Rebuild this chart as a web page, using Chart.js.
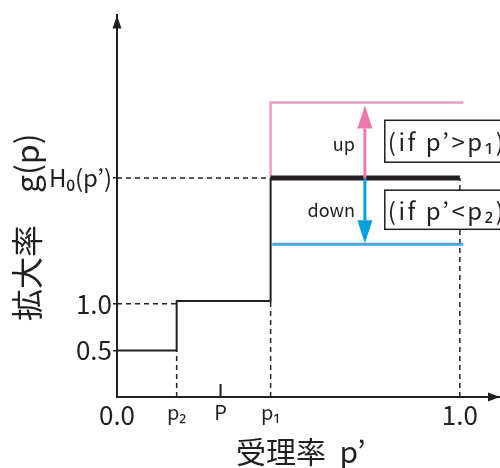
<!DOCTYPE html>
<html><head><meta charset="utf-8">
<script src="https://cdn.jsdelivr.net/npm/chart.js@4/dist/chart.umd.min.js"></script>
<style>html,body{margin:0;padding:0;background:#fff;}#wrap{width:500px;height:468px;}</style>
</head><body><div id="wrap"><canvas id="c" width="500" height="468"></canvas></div>
<script>
// ---- data ----
const xTickValues = [0, 0.174, 0.302, 0.448, 1.0];
const xTickLabels = ['0.0', 'p₂', 'P', 'p₁', '1.0'];
const yTickValues = [0.5, 1.0, 2.35];
const yTickLabels = ['0.5', '1.0', 'H₀(p’)'];

const stepX = [0, 0.174, 0.174, 0.448, 0.448];
const stepY = [0.5, 0.5, 1.03, 1.03, 2.35];
const h0X = [0.448, 1.0];
const h0Y = [2.35, 2.35];
const upLineX = [0.448, 0.448, 1.01];
const upLineY = [2.35, 3.16, 3.16];
const downLineX = [0.453, 1.01];
const downLineY = [1.64, 1.64];
const pTickX = [0.302, 0.302];
const pTickY = [0, 0.14];
// dashed guide segments (null = break)
const guideX = [0, 0.448, null, 0, 0.174, null, 0.174, 0.174, null, 0.448, 0.448, null, 1.0, 1.0];
const guideY = [2.35, 2.35, null, 1.0, 1.0, null, 0, 0.5, null, 0, 1.03, null, 0, 2.35];

const arrowX = 0.723;
const arrowFrom = [2.35, 2.35];
const arrowTo = [3.13, 1.65];
const arrowLabels = ['up', 'down'];
const arrowLabelY = [2.71, 2.01];
const boxTexts = ['(if p’>p₁)', '(if p’<p₂)'];
const boxTop = [2.97, 2.22];
const boxBottom = [2.52, 1.80];
const boxLeftX = 0.781;

const xTitle = '受理率  p’';
const yTitle = '拡大率　g(p)';

// ---- styles ----
const FONT = "'Noto Sans CJK JP', 'Noto Sans', 'DejaVu Sans', sans-serif";
const BLACK = '#231f20';
const PINK_LINE = '#f49ac1';
const PINK_ARROW = '#ee78ad';
const BLUE_LINE = '#4ba3dc';
const BLUE_ARROW = '#00a0dc';

const pts = (xs, ys) => xs.map((v, i) => ({x: v, y: ys[i]}));

function arrow(ctx, px, y0, y1, color) {
  const dir = y1 < y0 ? -1 : 1;
  const headLen = 23, headHalf = 7.5;
  const base = y1 - dir * headLen;
  ctx.strokeStyle = color; ctx.fillStyle = color; ctx.lineWidth = 3;
  ctx.beginPath(); ctx.moveTo(px, y0); ctx.lineTo(px, base); ctx.stroke();
  ctx.beginPath(); ctx.moveTo(px, y1); ctx.lineTo(px - headHalf, base); ctx.lineTo(px + headHalf, base); ctx.closePath(); ctx.fill();
}

const overlay = {
  id: 'overlay',
  afterDatasetsDraw(chart) {
    const {ctx, scales: {x, y}} = chart;
    ctx.save();
    const ax = x.getPixelForValue(arrowX);
    arrowTo.forEach((to, i) => {
      arrow(ctx, ax, y.getPixelForValue(arrowFrom[i]), y.getPixelForValue(to), i === 0 ? PINK_ARROW : BLUE_ARROW);
    });
    ctx.fillStyle = BLACK;
    ctx.font = '18px ' + FONT;
    ctx.textAlign = 'right'; ctx.textBaseline = 'middle';
    arrowLabels.forEach((t, i) => ctx.fillText(t, ax - 10, y.getPixelForValue(arrowLabelY[i])));
    const bl = x.getPixelForValue(boxLeftX);
    boxTexts.forEach((t, i) => {
      const top = y.getPixelForValue(boxTop[i]), bot = y.getPixelForValue(boxBottom[i]);
      ctx.fillStyle = '#fff';
      ctx.fillRect(bl, top, 200, bot - top);
      ctx.strokeStyle = BLACK; ctx.lineWidth = 1.5;
      ctx.strokeRect(bl, top, 200, bot - top);
      ctx.fillStyle = BLACK;
      ctx.font = '24px ' + FONT;
      ctx.textAlign = 'left'; ctx.textBaseline = 'middle';
      try { ctx.letterSpacing = '2.5px'; } catch (e) {}
      ctx.fillText(t, bl + 3, (top + bot) / 2 + 1);
      try { ctx.letterSpacing = '0px'; } catch (e) {}
    });
    ctx.restore();
  },
  afterDraw(chart) {
    const {ctx, chartArea: a} = chart;
    ctx.save();
    ctx.fillStyle = BLACK;
    // axis arrowheads
    ctx.beginPath(); ctx.moveTo(a.left, a.top); ctx.lineTo(a.left - 4.5, a.top + 13); ctx.lineTo(a.left + 4.5, a.top + 13); ctx.closePath(); ctx.fill();
    ctx.beginPath(); ctx.moveTo(a.right, a.bottom); ctx.lineTo(a.right - 12, a.bottom - 4.5); ctx.lineTo(a.right - 12, a.bottom + 4.5); ctx.closePath(); ctx.fill();
    // axis titles
    ctx.font = '30px ' + FONT;
    ctx.textAlign = 'left'; ctx.textBaseline = 'middle';
    ctx.fillText(xTitle, 236, 452);
    ctx.translate(27, 321);
    ctx.rotate(-Math.PI / 2);
    ctx.font = '32px ' + FONT;
    ctx.fillText(yTitle, 0, 0);
    ctx.restore();
  }
};

const lineDs = (data, color, width, order, extra) => Object.assign({
  data, borderColor: color, borderWidth: width, pointRadius: 0, fill: false,
  tension: 0, order, spanGaps: false, borderCapStyle: 'butt', borderJoinStyle: 'miter'
}, extra || {});

new Chart(document.getElementById('c'), {
  type: 'line',
  data: {
    datasets: [
      lineDs(pts(h0X, h0Y), BLACK, 5, 1),
      lineDs(pts(stepX, stepY), BLACK, 2, 2),
      lineDs(pts(upLineX, upLineY), PINK_LINE, 2.5, 3),
      lineDs(pts(downLineX, downLineY), BLUE_LINE, 3, 3),
      lineDs(pts(pTickX, pTickY), BLACK, 2, 4),
      lineDs(pts(guideX, guideY), BLACK, 1.5, 5, {borderDash: [5, 4]})
    ]
  },
  options: {
    responsive: false,
    devicePixelRatio: 1,
    animation: false,
    events: [],
    layout: {padding: {top: 12, right: 0, left: 0, bottom: 0}},
    plugins: {legend: {display: false}, tooltip: {enabled: false}},
    scales: {
      x: {
        type: 'linear', min: 0, max: 1.117,
        afterBuildTicks: s => { s.ticks = xTickValues.map(v => ({value: v})); },
        afterFit: s => { s.height = 71; },
        grid: {display: false, drawTicks: false},
        border: {display: true, color: BLACK, width: 2},
        ticks: {
          autoSkip: false, maxRotation: 0, padding: 3, color: BLACK,
          callback: (v, i) => xTickLabels[i],
          font: c => ({family: FONT, size: (c.index === 0 || c.index === 4) ? 26 : 20})
        }
      },
      y: {
        type: 'linear', min: 0, max: 4.096,
        afterBuildTicks: s => { s.ticks = yTickValues.map(v => ({value: v})); },
        afterFit: s => { s.width = 117; },
        grid: {display: true, drawOnChartArea: false, drawTicks: true, tickLength: 4, color: BLACK, lineWidth: 1.5},
        border: {display: true, color: BLACK, width: 2},
        ticks: {
          autoSkip: false, padding: 1, color: BLACK,
          callback: (v, i) => yTickLabels[i],
          font: c => ({family: FONT, size: c.index === 2 ? 24 : 26})
        }
      }
    }
  },
  plugins: [overlay]
});
</script></body></html>
